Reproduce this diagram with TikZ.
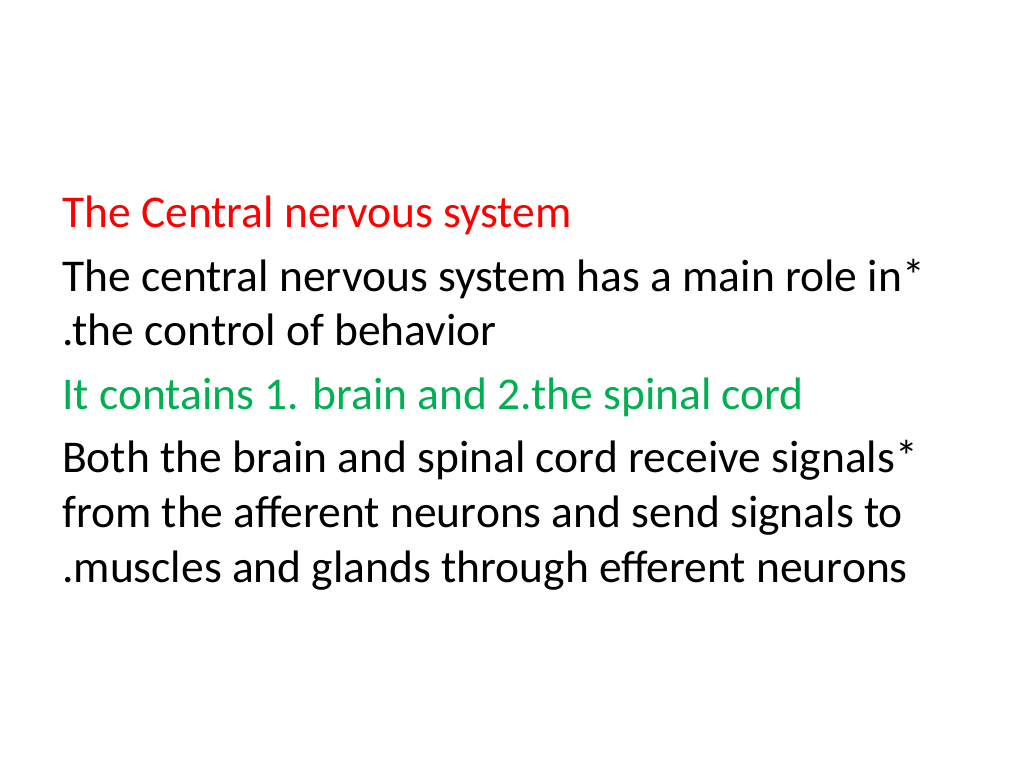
\documentclass[tikz,border=0pt]{standalone}
\usepackage{fontspec}
\setmainfont{Carlito}
\definecolor{titlered}{RGB}{255,0,0}
\definecolor{slidegreen}{RGB}{0,176,80}
\tikzset{line/.style={anchor=base west, inner sep=0pt, font=\fontsize{45.5}{50}\selectfont}}
\begin{document}
\begin{tikzpicture}[x=1pt,y=1pt]
  \useasboundingbox (0,0) rectangle (1024,768);
  % Slide text
  \node[line, text=titlered] (title) at (62,540) {The Central nervous system};
  \foreach \y/\name/\txt in {476/l1/{The central nervous system has a main role in*},
                             422/l2/{.the control of behavior}} {
    \node[line] (\name) at (62,\y) {\txt};
  }
  \node[line, text=slidegreen] (green) at (62,358) {It contains 1. brain and 2.the spinal cord};
  \foreach \y/\name/\txt in {295/l3/{Both the brain and spinal cord receive signals*},
                             240/l4/{from the afferent neurons and send signals to},
                             185/l5/{.muscles and glands through efferent neurons}} {
    \node[line] (\name) at (62,\y) {\txt};
  }
\end{tikzpicture}
\end{document}
